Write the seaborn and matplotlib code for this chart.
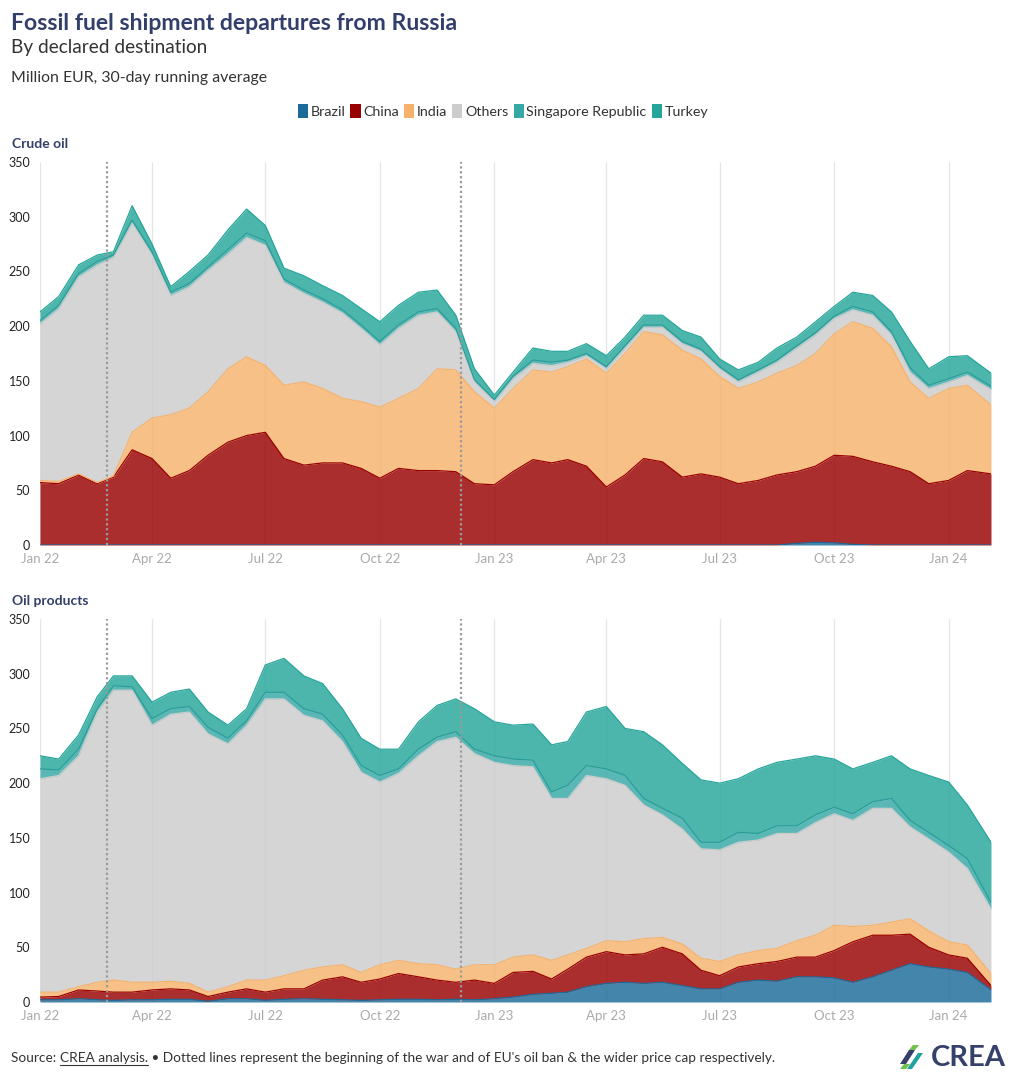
import matplotlib
matplotlib.use("Agg")
import matplotlib.pyplot as plt
import matplotlib.dates as mdates
from matplotlib.patches import Patch, Polygon
from matplotlib.lines import Line2D
import numpy as np
import pandas as pd
import seaborn as sns

# ---------------- data (semi-monthly) ----------------
dates = ["2022-01-01", "2022-01-16", "2022-02-01", "2022-02-16", "2022-03-01", "2022-03-16",
         "2022-04-01", "2022-04-16", "2022-05-01", "2022-05-16", "2022-06-01", "2022-06-16",
         "2022-07-01", "2022-07-16", "2022-08-01", "2022-08-16", "2022-09-01", "2022-09-16",
         "2022-10-01", "2022-10-16", "2022-11-01", "2022-11-16", "2022-12-01", "2022-12-16",
         "2023-01-01", "2023-01-16", "2023-02-01", "2023-02-16", "2023-03-01", "2023-03-16",
         "2023-04-01", "2023-04-16", "2023-05-01", "2023-05-16", "2023-06-01", "2023-06-16",
         "2023-07-01", "2023-07-16", "2023-08-01", "2023-08-16", "2023-09-01", "2023-09-16",
         "2023-10-01", "2023-10-16", "2023-11-01", "2023-11-16", "2023-12-01", "2023-12-16",
         "2024-01-01", "2024-01-16", "2024-02-04"]

countries = ["Brazil", "China", "India", "Others", "Singapore Republic", "Turkey"]

# Crude oil (million EUR / day)
crude_brazil = [0, 0, 0, 0, 0, 0, 0, 0, 0, 0, 0, 0, 0, 0, 0, 0, 0, 0, 0, 0, 0, 0, 0, 0,
                0, 0, 0, 0, 0, 0, 0, 0, 0, 0, 0, 0, 0, 0, 0, 0, 1.5, 2.5, 2, 0.5, 0, 0, 0, 0,
                0, 0, 0]
crude_china = [57, 56, 64, 56, 62, 87, 79, 61, 68, 82, 94, 100, 103, 79, 73, 75, 75, 70,
               61, 70, 68, 68, 67, 56, 55, 67, 78, 75, 78, 72, 53, 64, 79, 76, 62, 65,
               62, 56, 59, 64, 65.5, 69.5, 80, 80.5, 76, 72, 67, 56, 59, 68, 65]
crude_india = [2, 2, 1, 1, 1, 16, 37, 58, 57, 58, 67, 72, 61, 67, 76, 68, 59, 61,
               65, 64, 75, 93, 93, 84, 70, 76, 82, 83, 85, 98, 104, 111, 116, 116, 116, 105,
               92, 87, 90, 93, 97, 103, 111, 123, 122, 109, 82, 78, 84, 78, 63]
crude_others = [143, 158, 180, 199, 200, 191, 149, 109, 111, 111, 105, 109, 110, 94, 81, 79, 78, 67,
                57, 64, 67, 52, 35, 9, 6, 9, 6, 6, 4, 3, 4, 5, 4, 7, 6, 7,
                7, 6, 9, 10, 16, 17, 14, 11, 12, 11, 9, 9, 6, 9, 14]
crude_singapore = [3, 3, 3, 3, 2, 3, 3, 3, 3, 3, 4, 4, 4, 3, 3, 3, 3, 3,
                   3, 3, 3, 3, 3, 2, 2, 2, 3, 3, 2, 2, 2, 2, 2, 2, 2, 2,
                   2, 2, 2, 2, 2, 2, 2, 3, 3, 3, 4, 3, 3, 3, 3]
crude_turkey = [8, 8, 8, 6, 3, 13, 7, 5, 11, 11, 18, 22, 14, 10, 13, 12, 13, 15,
                18, 18, 18, 17, 12, 10, 4, 4, 11, 10, 8, 9, 10, 8, 9, 9, 10, 11,
                7, 9, 7, 11, 8, 10, 9, 13, 15, 18, 24, 15, 20, 15, 12]

# Oil products (million EUR / day)
prod_brazil = [2, 2, 3, 2, 1.5, 2, 2, 2.5, 2.5, 0.6, 3, 3, 1.5, 2.5, 3, 2.5, 2, 1.5,
               2, 2.5, 2.5, 2, 2.5, 2, 3, 4.5, 7, 8, 9, 14, 17, 18, 17, 18, 15, 12,
               12, 18, 20, 19, 23, 23, 22, 18, 23, 29, 35, 32, 30, 27, 11]
prod_china = [2.5, 3, 8, 8, 7.5, 7, 9, 9.5, 8.5, 4.4, 6, 9, 7.5, 9.5, 9, 17.5, 21, 16.5,
              19, 23.5, 20.5, 18, 15.5, 18, 14, 22.5, 21, 13, 21, 27, 29, 25, 27, 32, 29, 17,
              12, 14, 15, 18, 18, 18, 25, 37, 38, 32, 27, 18, 13, 13, 4]
prod_india = [4.5, 4, 3, 8, 11, 9, 7, 7, 6, 4, 5, 8, 11, 12, 17, 12, 11, 9,
              13, 12, 12, 14, 12, 14, 17, 14, 15, 17, 13, 8, 10, 12, 14, 9, 9, 11,
              13, 11, 12, 12, 15, 20, 23, 14, 9, 12, 14, 15, 12, 12, 11]
prod_others = [195, 198, 211, 247, 265, 267, 235, 244, 248, 236, 222, 233, 257, 253, 233, 225, 204, 183,
               167, 171, 190, 204, 212, 193, 185, 175, 172, 148, 143, 158, 148, 143, 122, 112, 105, 100,
               102, 103, 101, 105, 98, 103, 102, 97, 107, 104, 84, 84, 82, 70, 59]
prod_singapore = [9, 5, 6, 3, 4, 3, 6, 5, 5, 6, 5, 4, 6, 6, 6, 6, 6, 6,
                  6, 4, 6, 4, 5, 4, 6, 6, 6, 6, 12, 9, 9, 9, 6, 6, 10, 6,
                  7, 9, 6, 7, 7, 7, 6, 6, 6, 9, 6, 6, 6, 9, 6]
prod_turkey = [12, 10, 13, 11, 9, 10, 15, 15, 16, 14, 12, 11, 25, 31, 30, 28, 24, 25,
               24, 18, 25, 29, 30, 37, 31, 31, 33, 43, 40, 49, 57, 43, 61, 58, 50, 57,
               54, 49, 59, 58, 61, 54, 44, 41, 36, 39, 47, 52, 58, 49, 55]

crude = [crude_brazil, crude_china, crude_india, crude_others, crude_singapore, crude_turkey]
products = [prod_brazil, prod_china, prod_india, prod_others, prod_singapore, prod_turkey]

y_ticks = [0, 50, 100, 150, 200, 250, 300, 350]
event_dates = ["2022-02-24", "2022-12-05"]

colors = ["#1b6a9a", "#990000", "#f6b26b", "#cccccc", "#35a8a6", "#26a69a"]
edge_colors = ["#1b6a9a", "#990000", "#f6b26b", "#cccccc", "#2a9d99", "#26a69a"]

# ---------------- styling ----------------
sns.set_theme(style="white")
plt.rcParams["font.family"] = ["Lato", "DejaVu Sans"]

NAVY = "#333f6b"
W, H = 1020, 1087
fig = plt.figure(figsize=(W / 100, H / 100), dpi=100)


def fx(px):
    return px / W


def fy(py):
    return 1 - py / H


x = pd.to_datetime(dates)
xmin, xmax = pd.Timestamp("2022-01-01"), pd.Timestamp("2024-02-04")


def draw_panel(ax, series):
    base = np.zeros(len(x))
    for vals, c, ec in zip(series, colors, edge_colors):
        v = np.asarray(vals, dtype=float)
        top = base + v
        ax.fill_between(x, base, top, color=c, alpha=0.82, linewidth=0, zorder=2)
        sns.lineplot(x=x, y=top, ax=ax, color=ec, linewidth=0.9, zorder=3, legend=False)
        base = top
    for d in event_dates:
        ax.axvline(pd.Timestamp(d), color="#9a9a9a", linestyle=(0, (1, 1.2)), linewidth=1.6, zorder=4)
    ax.set_xlim(xmin, xmax)
    ax.set_ylim(0, 350)
    ax.set_yticks(y_ticks)
    ax.xaxis.set_major_locator(mdates.MonthLocator(bymonth=[1, 4, 7, 10]))
    ax.xaxis.set_major_formatter(mdates.DateFormatter("%b %y"))
    ax.grid(axis="x", color="#e6e6e6", linewidth=0.9, zorder=0)
    ax.grid(axis="y", visible=False)
    for s in ax.spines.values():
        s.set_visible(False)
    ax.tick_params(axis="y", length=5, width=0.8, color="#dddddd", labelsize=9, labelcolor="#222222", pad=2)
    ax.tick_params(axis="x", length=0, labelsize=9.5, labelcolor="#aaaaaa", pad=6)
    ax.set_xlabel("")
    ax.set_ylabel("")
    ax.set_axisbelow(True)


ax1 = fig.add_axes([fx(40), fy(545), fx(991) - fx(40), fy(162) - fy(545)])
draw_panel(ax1, crude)
ax2 = fig.add_axes([fx(40), fy(1002), fx(991) - fx(40), fy(619) - fy(1002)])
draw_panel(ax2, products)

# panel titles
fig.text(fx(12), fy(144), "Crude oil", fontsize=10, fontweight="bold", color=NAVY, va="center", ha="left")
fig.text(fx(12), fy(601), "Oil products", fontsize=10, fontweight="bold", color=NAVY, va="center", ha="left")

# titles
fig.text(fx(11), fy(24), "Fossil fuel shipment departures from Russia", fontsize=16.6, fontweight="bold",
         color=NAVY, va="center", ha="left")
fig.text(fx(11), fy(48), "By declared destination", fontsize=13.7, color="#333333", va="center", ha="left")
fig.text(fx(11), fy(78), "Million EUR, 30-day running average", fontsize=11.4, color="#333333", va="center", ha="left")

# legend
handles = [Patch(facecolor=c, edgecolor="none") for c in colors]
fig.legend(handles, countries, loc="center", bbox_to_anchor=(fx(503), fy(111)), ncol=6, frameon=False,
           handlelength=0.7, handleheight=1.15, handletextpad=0.2, columnspacing=0.35, fontsize=10.3,
           labelcolor="#333333")

# footer
fig.canvas.draw()
r = fig.canvas.get_renderer()
fy_foot = fy(1058)
t1 = fig.text(fx(11), fy_foot, "Source: ", fontsize=9.8, color="#333333", va="center", ha="left")
bb1 = t1.get_window_extent(r)
t2 = fig.text(bb1.x1 / W, fy_foot, "CREA analysis.", fontsize=9.8, color="#333333", va="center", ha="left")
bb2 = t2.get_window_extent(r)
fig.add_artist(Line2D([bb2.x0 / W, bb2.x1 / W], [(bb2.y0 - 1) / H, (bb2.y0 - 1) / H],
                      color="#333333", linewidth=0.8))
fig.text(bb2.x1 / W, fy_foot,
         " \u2022 Dotted lines represent the beginning of the war and of EU's oil ban & the wider price cap respectively.",
         fontsize=9.8, color="#333333", va="center", ha="left")

# CREA logo
fig.text(fx(1006), fy(1058), "CREA", fontsize=21, fontweight="bold", color="#35406b", va="center", ha="right")
icon = [([900, 1064], [909, 1050], [915, 1050], [906, 1064], "#35406b"),
        ([907, 1069], [918, 1053], [923, 1053], [912, 1069], "#1fa3a0"),
        ([900, 1069], [904, 1064], [910, 1064], [906, 1069], "#6cc24a"),
        ([909, 1050], [913, 1045], [919, 1045], [915, 1050], "#6cc24a")]
for a, b, c, d, col in icon:
    fig.add_artist(Polygon([[fx(a[0]), fy(a[1])], [fx(b[0]), fy(b[1])], [fx(c[0]), fy(c[1])], [fx(d[0]), fy(d[1])]],
                           closed=True, facecolor=col, edgecolor="none", transform=fig.transFigure))

fig.savefig("out.png", dpi=100)
